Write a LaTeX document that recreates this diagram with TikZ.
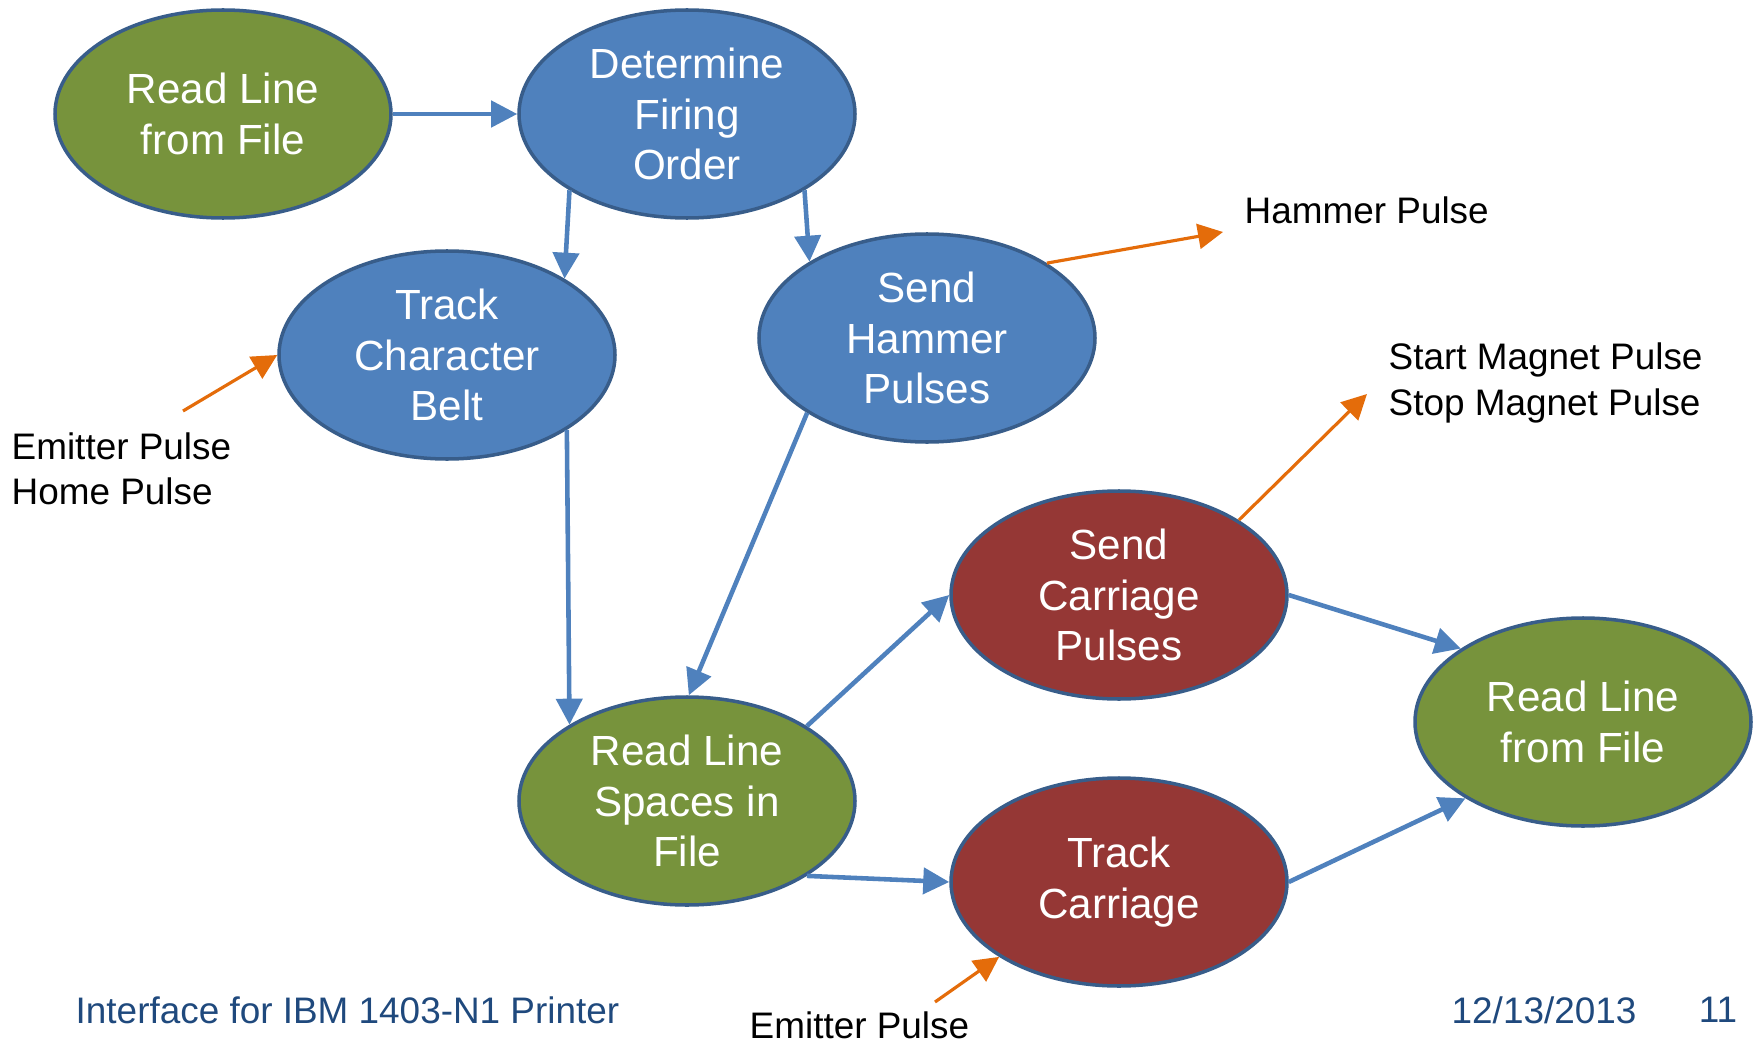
\documentclass[tikz,border=0pt]{standalone}
\usepackage{fontspec}
\setmainfont{Liberation Sans}
\usetikzlibrary{shapes.geometric,arrows.meta}
\definecolor{greenfill}{HTML}{77933C}
\definecolor{bluefill}{HTML}{4F81BD}
\definecolor{redfill}{HTML}{953735}
\definecolor{rimblue}{HTML}{385D8A}
\definecolor{flowblue}{HTML}{4F81BD}
\definecolor{pulseorange}{HTML}{E46C0A}
\definecolor{footblue}{HTML}{1F497D}

\begin{document}
\begin{tikzpicture}[
  state/.style={ellipse, draw=rimblue, line width=1pt, minimum width=3.36cm, minimum height=2.08cm,
    inner sep=0pt, align=center, text=white, font=\fontsize{12}{14.4}\selectfont},
  readstate/.style={state, fill=greenfill},
  logicstate/.style={state, fill=bluefill},
  carrstate/.style={state, fill=redfill},
  flow/.style={draw=flowblue, line width=1.3pt, -{Triangle[length=2.6mm,width=2.6mm]}},
  pulse/.style={draw=pulseorange, line width=0.9pt, -{Triangle[length=2.5mm,width=2.5mm]}},
  signal/.style={align=left, anchor=west, inner sep=0pt, font=\fontsize{10.5}{12.9}\selectfont},
  footer/.style={anchor=west, inner sep=0pt, text=footblue, font=\fontsize{10.5}{12.6}\selectfont}
]
\useasboundingbox (0,0) rectangle (17.6,10.41);

\node[readstate] (readfile) at (2.23,9.27) {Read Line\\from File};
\node[logicstate] (firing) at (6.87,9.27) {Determine\\Firing\\Order};
\node[logicstate] (belt) at (4.47,6.86) {Track\\Character\\Belt};
\node[logicstate] (hammer) at (9.27,7.03) {Send\\Hammer\\Pulses};
\node[readstate] (spaces) at (6.87,2.40) {Read Line\\Spaces in\\File};
\node[carrstate] (carrpulse) at (11.19,4.46) {Send\\Carriage\\Pulses};
\node[carrstate] (carriage) at (11.19,1.59) {Track\\Carriage};
\node[readstate] (nextfile) at (15.83,3.19) {Read Line\\from File};

\node[signal] (hammersig) at (12.44,8.31) {Hammer Pulse};
\node[signal] (magnetsig) at (13.88,6.58) {Start Magnet Pulse\\Stop Magnet Pulse};
\node[signal] (beltsig) at (0.11,5.72) {Emitter Pulse\\Home Pulse};
\node[signal] (carrsig) at (7.49,0.16) {Emitter Pulse};

\coordinate (hammerout) at (12.23,8.09);
\coordinate (magnetout) at (13.67,6.47);
\coordinate (beltin) at (1.83,6.30);
\coordinate (carrin) at (9.35,0.39);

\draw[flow] (readfile.east) -- (firing.west);
\draw[flow] (firing.213) -- (belt.33);
\draw[flow] (firing.327) -- (hammer.147);
\draw[flow] (belt.328) -- (spaces.147);
\draw[flow] (hammer.212) -- (spaces.89);
\draw[flow] (spaces.32) -- (carrpulse.west);
\draw[flow] (spaces.328) -- (carriage.west);
\draw[flow] (carrpulse.east) -- (nextfile.149);
\draw[flow] (carriage.east) -- (nextfile.213);

\draw[pulse] (hammer.32) -- (hammerout);
\draw[pulse] (carrpulse.32) -- (magnetout);
\draw[pulse] (beltin) -- (belt.west);
\draw[pulse] (carrin) -- (carriage.212);

\node[footer] (title) at (0.75,0.31) {Interface for IBM 1403-N1 Printer};
\node[footer] (date) at (14.51,0.31) {12/13/2013};
\node[footer, anchor=center] (page) at (17.18,0.31) {11};
\end{tikzpicture}
\end{document}
